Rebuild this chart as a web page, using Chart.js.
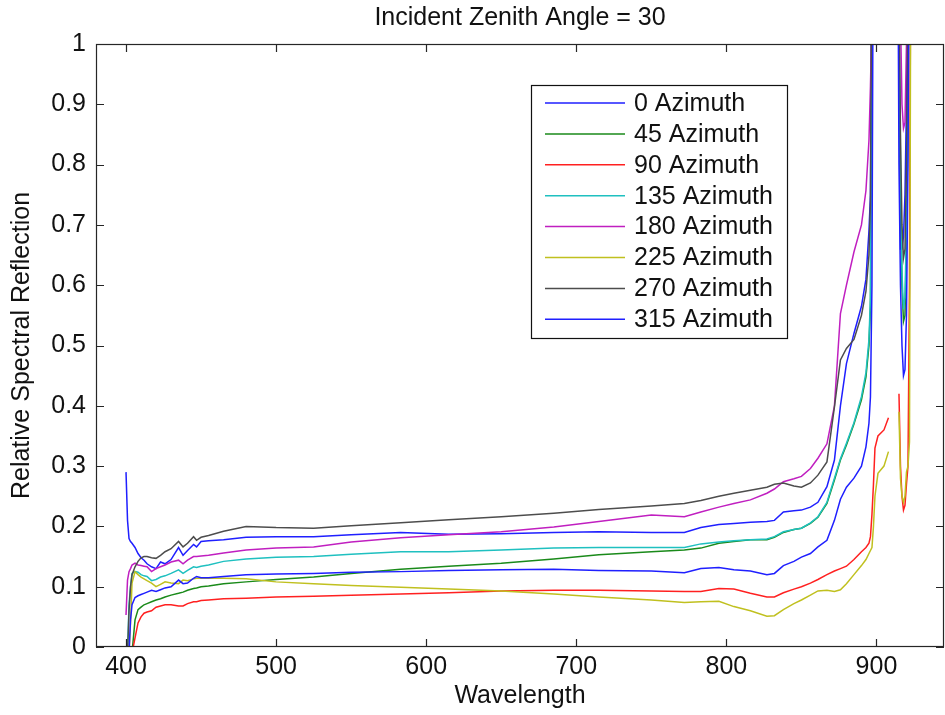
<!DOCTYPE html>
<html>
<head>
<meta charset="utf-8">
<title>Incident Zenith Angle = 30</title>
<script src="https://cdn.jsdelivr.net/npm/chart.js@4.4.0/dist/chart.umd.min.js"></script>
<style>
  body { margin: 0; background: #fff; }
  canvas { display: block; }
</style>
</head>
<body>
<canvas id="myChart" width="945" height="715"></canvas>
<script>
// wavelength samples (nm), shared by every series; null = no data
const wavelengths = [
  400, 401, 402, 403, 404, 406, 408, 410, 412, 414, 417, 420, 423, 426, 430, 435, 438, 441, 445, 447,
  450, 455, 465, 480, 500, 525, 550, 583, 615, 650, 685, 715, 750, 772, 783, 795, 805, 816, 827, 832,
  838, 845, 850, 856, 861, 867, 872, 876, 880, 885, 890, 893, 895, 896, 897, 898, 899, 901, 905, 908,
  911, 914, 915, 916, 917, 918, 919, 920, 921, 922, 923, 924
];

const az0 = [
  0.29, 0.21, 0.18, 0.175, 0.172, 0.165, 0.155, 0.148, 0.144, 0.138, 0.133, 0.13, 0.141, 0.138, 0.145, 0.165, 0.152, 0.16, 0.17, 0.166,
  0.175, 0.176, 0.178, 0.182, 0.183, 0.183, 0.186, 0.19, 0.187, 0.188, 0.19, 0.191, 0.19, 0.19, 0.198, 0.203, 0.205, 0.207, 0.208, 0.21,
  0.224, 0.226, 0.227, 0.232, 0.24, 0.266, 0.31, 0.4, 0.47, 0.52, 0.565, 0.61, 0.69, 0.75, 1.2, 1.3, 1.3, 1.3, 1.3, 1.3,
  null, 1.3, 1.0, 0.66, 0.66, 0.68, 0.75, 0.9, 1.1, 1.3, 1.3, null
];
const az45 = [
  null, null, null, null, -0.01, 0.045, 0.062, 0.066, 0.07, 0.072, 0.075, 0.078, 0.08, 0.083, 0.086, 0.089, 0.091, 0.094, 0.097, 0.098,
  0.1, 0.101, 0.105, 0.108, 0.112, 0.116, 0.122, 0.129, 0.134, 0.139, 0.146, 0.153, 0.158, 0.161, 0.164, 0.172, 0.175, 0.178, 0.178, 0.182,
  0.19, 0.195, 0.197, 0.205, 0.215, 0.238, 0.277, 0.31, 0.335, 0.37, 0.41, 0.448, 0.5, 0.564, 1.2, 1.3, 1.3, 1.3, 1.3, 1.3,
  null, 1.3, 1.0, 0.75, 0.6, 0.54, 0.55, 0.68, 0.9, 1.3, 1.3, null
];
const az90 = [
  null, null, null, null, -0.01, 0.015, 0.04, 0.05, 0.056, 0.058, 0.06, 0.066, 0.068, 0.07, 0.07, 0.068, 0.068, 0.072, 0.075, 0.075,
  0.077, 0.078, 0.08, 0.081, 0.083, 0.084, 0.086, 0.088, 0.09, 0.093, 0.094, 0.094, 0.093, 0.092, 0.092, 0.097, 0.096, 0.089, 0.083, 0.083,
  0.09, 0.096, 0.1, 0.106, 0.112, 0.12, 0.126, 0.13, 0.134, 0.145, 0.158, 0.165, 0.172, 0.183, 0.22, 0.27, 0.33, 0.35, 0.36, 0.38,
  null, null, 0.42, 0.3, 0.25, 0.227, 0.235, 0.27, 0.3, 0.6, 1.3, null
];
const az135 = [
  null, -0.01, 0.07, 0.1, 0.122, 0.125, 0.124, 0.12, 0.118, 0.117, 0.11, 0.112, 0.116, 0.118, 0.122, 0.128, 0.122, 0.127, 0.133, 0.132,
  0.134, 0.136, 0.142, 0.146, 0.149, 0.15, 0.154, 0.158, 0.158, 0.161, 0.164, 0.165, 0.165, 0.165, 0.171, 0.174, 0.176, 0.178, 0.179, 0.183,
  0.191, 0.195, 0.197, 0.206, 0.216, 0.24, 0.28, 0.312, 0.338, 0.372, 0.415, 0.455, 0.51, 0.58, 1.2, 1.3, 1.3, 1.3, 1.3, 1.3,
  null, 1.3, 1.05, 0.8, 0.62, 0.56, 0.58, 0.7, 0.85, 1.3, 1.3, null
];
const az180 = [
  0.053, 0.111, 0.125, 0.13, 0.136, 0.139, 0.136, 0.135, 0.134, 0.133, 0.125, 0.13, 0.133, 0.136, 0.141, 0.144, 0.138, 0.144, 0.15, 0.15,
  0.151, 0.152, 0.156, 0.161, 0.164, 0.166, 0.174, 0.181, 0.186, 0.191, 0.199, 0.208, 0.219, 0.216, 0.224, 0.232, 0.238, 0.244, 0.255, 0.262,
  0.274, 0.279, 0.283, 0.296, 0.313, 0.337, 0.4, 0.553, 0.6, 0.655, 0.7, 0.757, 0.84, 0.93, 1.05, 1.3, 1.3, 1.3, 1.3, 1.3,
  null, 1.3, 1.2, 1.05, 0.9, 0.86, 0.87, 1.0, 1.3, 1.3, 1.3, null
];
const az225 = [
  null, null, -0.01, 0.04, 0.106, 0.125, 0.12, 0.116, 0.113, 0.11, 0.106, 0.1, 0.104, 0.108, 0.106, 0.105, 0.111, 0.11, 0.113, 0.114,
  0.114, 0.114, 0.114, 0.113, 0.108, 0.105, 0.102, 0.099, 0.096, 0.093, 0.088, 0.083, 0.078, 0.074, 0.075, 0.076, 0.067, 0.06, 0.051, 0.052,
  0.062, 0.072, 0.078, 0.086, 0.093, 0.094, 0.092, 0.095, 0.105, 0.12, 0.135, 0.145, 0.155, 0.16, 0.165, 0.2, 0.25, 0.288, 0.3, 0.324,
  null, null, 0.39, 0.28, 0.25, 0.24, 0.25, 0.29, 0.3, 0.34, 1.3, null
];
const az270 = [
  null, -0.01, 0.06, 0.1, 0.12, 0.133, 0.142, 0.148, 0.15, 0.15, 0.148, 0.147, 0.152, 0.158, 0.163, 0.175, 0.166, 0.172, 0.183, 0.177,
  0.182, 0.185, 0.192, 0.2, 0.198, 0.197, 0.201, 0.206, 0.211, 0.216, 0.222, 0.228, 0.234, 0.238, 0.243, 0.25, 0.255, 0.26, 0.265, 0.27,
  0.272, 0.267, 0.265, 0.272, 0.285, 0.307, 0.398, 0.476, 0.495, 0.51, 0.55, 0.59, 0.65, 0.74, 1.2, 1.3, 1.3, 1.3, 1.3, 1.3,
  null, 1.3, 1.1, 0.85, 0.7, 0.645, 0.66, 0.8, 1.1, 1.3, 1.3, null
];
const az315 = [
  null, null, -0.01, 0.045, 0.07, 0.082, 0.085, 0.087, 0.089, 0.091, 0.094, 0.092, 0.095, 0.098, 0.1, 0.111, 0.105, 0.106, 0.114, 0.117,
  0.115, 0.115, 0.117, 0.12, 0.121, 0.122, 0.124, 0.125, 0.127, 0.128, 0.129, 0.127, 0.126, 0.123, 0.13, 0.132, 0.128, 0.126, 0.12, 0.122,
  0.135, 0.142, 0.149, 0.155, 0.166, 0.177, 0.21, 0.245, 0.265, 0.28, 0.3, 0.332, 0.371, 0.415, 0.6, 1.3, 1.3, 1.3, 1.3, 1.3,
  null, 1.3, 0.8, 0.6, 0.5, 0.45, 0.46, 0.55, 0.8, 1.3, 1.3, null
];

const seriesValues = [az0, az45, az90, az135, az180, az225, az270, az315];
const seriesLabels = ["0 Azimuth", "45 Azimuth", "90 Azimuth", "135 Azimuth", "180 Azimuth", "225 Azimuth", "270 Azimuth", "315 Azimuth"];
const seriesColors = ["#1f1fff", "#1a8a1a", "#ff2020", "#1fc0c0", "#c01fc0", "#c0c01f", "#4d4d4d", "#1f1fff"];

const xTicks = [400, 500, 600, 700, 800, 900];
const yTicks = [0, 0.1, 0.2, 0.3, 0.4, 0.5, 0.6, 0.7, 0.8, 0.9, 1];

const FONT = "'Liberation Sans', Arial, sans-serif";
Chart.defaults.font.family = FONT;
Chart.defaults.color = "#111";

// box, inward ticks on all four sides, and the boxed legend
const framePlugin = {
  id: "frame",
  afterDraw(chart) {
    const { ctx, chartArea: a } = chart;
    const sx = chart.scales.x;
    const sy = chart.scales.y;
    ctx.save();
    ctx.strokeStyle = "#262626";
    ctx.lineWidth = 1.2;
    ctx.strokeRect(a.left + 0.5, a.top + 0.5, a.right - a.left - 1, a.bottom - a.top - 1);
    ctx.beginPath();
    xTicks.forEach((v) => {
      const px = Math.round(sx.getPixelForValue(v)) + 0.5;
      ctx.moveTo(px, a.bottom);
      ctx.lineTo(px, a.bottom - 8);
      ctx.moveTo(px, a.top);
      ctx.lineTo(px, a.top + 8);
    });
    yTicks.forEach((v) => {
      const py = Math.round(sy.getPixelForValue(v)) + 0.5;
      ctx.moveTo(a.left, py);
      ctx.lineTo(a.left + 8, py);
      ctx.moveTo(a.right, py);
      ctx.lineTo(a.right - 8, py);
    });
    ctx.stroke();

    // legend
    const bx = 531, by = 85, bw = 256, bh = 253;
    ctx.fillStyle = "#fff";
    ctx.fillRect(bx, by, bw, bh);
    ctx.strokeStyle = "#111";
    ctx.lineWidth = 1.2;
    ctx.strokeRect(bx + 0.5, by + 0.5, bw, bh);
    ctx.font = "25px " + FONT;
    ctx.textBaseline = "middle";
    ctx.textAlign = "left";
    chart.data.datasets.forEach((ds, i) => {
      const y = by + 18 + i * 30.9;
      ctx.strokeStyle = ds.borderColor;
      ctx.lineWidth = 1.5;
      ctx.beginPath();
      ctx.moveTo(545, y);
      ctx.lineTo(625, y);
      ctx.stroke();
      ctx.fillStyle = "#111";
      ctx.fillText(ds.label, 634, y + 1);
    });
    ctx.restore();
  },
};

const myChart = new Chart("myChart", {
  type: "line",
  data: {
    datasets: seriesValues.map((vals, i) => ({
      label: seriesLabels[i],
      data: wavelengths.map((w, k) => ({ x: w, y: vals[k] })),
      borderColor: seriesColors[i],
      backgroundColor: seriesColors[i],
      borderWidth: 1.5,
      pointRadius: 0,
      tension: 0,
      spanGaps: false,
      order: seriesValues.length - i,
    })),
  },
  options: {
    responsive: false,
    animation: false,
    layout: { padding: { left: 0, right: 1, top: 0, bottom: 0 } },
    plugins: {
      legend: { display: false },
      tooltip: { enabled: false },
      title: {
        display: true,
        text: "Incident Zenith Angle = 30",
        fullSize: false,
        color: "#111",
        font: { size: 25, weight: "normal" },
        padding: { top: 3, bottom: 11 },
      },
    },
    scales: {
      x: {
        type: "linear",
        min: 380,
        max: 945,
        grid: { display: false, drawTicks: false },
        border: { display: false },
        afterBuildTicks: (scale) => {
          scale.ticks = xTicks.map((v) => ({ value: v }));
        },
        afterFit: (scale) => {
          scale.height = 68;
        },
        ticks: { font: { size: 25 }, padding: 5, maxRotation: 0, callback: (v) => String(v) },
        title: { display: true, text: "Wavelength", font: { size: 25 }, padding: { top: 0, bottom: 4 } },
      },
      y: {
        min: 0,
        max: 1,
        grid: { display: false, drawTicks: false },
        border: { display: false },
        afterBuildTicks: (scale) => {
          scale.ticks = yTicks.map((v) => ({ value: v }));
        },
        afterFit: (scale) => {
          scale.width = 96;
        },
        ticks: { font: { size: 25 }, padding: 10, callback: (v) => String(v) },
        title: { display: true, text: "Relative Spectral Reflection", font: { size: 25 }, padding: { top: 7, bottom: 0 } },
      },
    },
  },
  plugins: [framePlugin],
});
</script>
</body>
</html>
